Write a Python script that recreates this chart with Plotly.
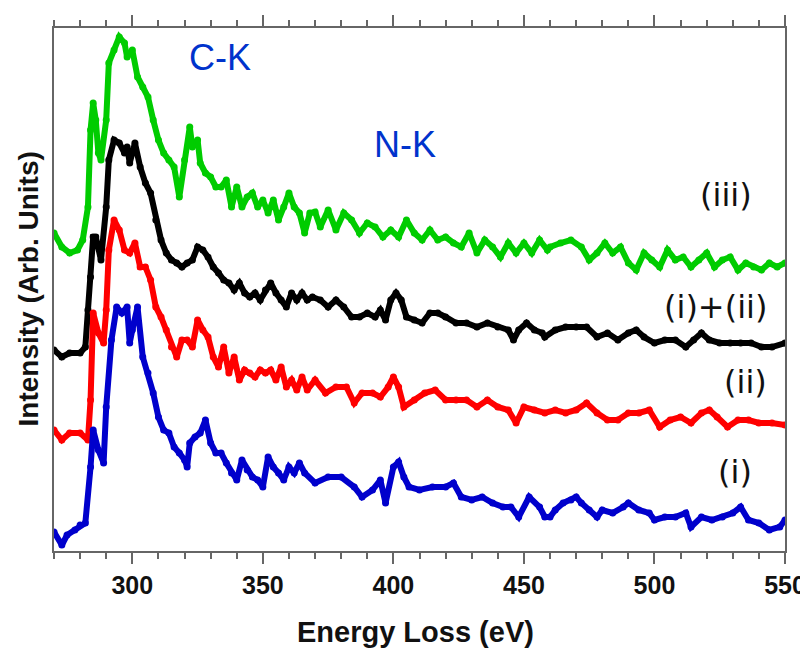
import plotly.graph_objects as go

# (i) blue
e_i = [270,273,275,278,280,282,284,285,287,289,290,292,294,296,298,299,300,302,304,306,
       308,310,312,314,316,318,320,321,322,324,326,328,330,332,334,336,338,340,342,344,
       346,348,350,352,354,356,358,360,362,364,366,370,375,380,385,388,392,395,397,400,
       402,404,406,410,415,420,423,426,430,434,438,442,445,448,452,456,458,460,462,465,
       468,470,472,475,478,480,484,488,490,494,498,500,504,508,512,514,518,522,526,530,
       533,536,540,544,548,550]
y_i = [19,6,16,21,26,28,84,121,101,88,144,211,244,238,244,208,221,244,194,178,
       158,134,121,118,104,98,91,84,108,114,118,131,108,98,98,88,78,71,91,81,
       74,71,64,94,84,78,71,84,78,88,78,68,74,74,64,54,61,71,48,84,
       89,74,64,61,64,64,68,54,51,54,48,44,44,34,54,44,34,34,41,48,
       51,54,48,41,34,41,38,44,48,41,38,31,34,34,38,24,34,31,34,38,
       44,31,28,21,24,31]

# (ii) red
e_ii = [270,273,276,280,283,284,285,287,289,290,291,293,295,297,299,301,303,305,307,309,
        311,313,315,317,319,321,323,325,327,329,331,333,335,337,339,341,343,345,347,349,
        351,353,355,357,359,361,363,365,367,370,374,378,382,385,388,392,395,398,400,402,
        404,408,412,416,420,424,428,432,436,440,444,447,450,454,458,462,466,470,474,478,
        482,486,490,494,498,502,506,510,514,518,521,524,528,532,536,540,545,550]
y_ii = [121,111,118,118,111,151,238,218,208,241,301,331,321,301,298,308,284,284,271,244,
        234,221,204,194,211,211,204,231,221,214,194,184,204,178,194,171,181,178,174,181,
        178,181,171,184,164,171,161,174,161,171,158,164,164,148,158,158,154,164,174,164,
        144,151,158,161,151,151,151,144,151,144,141,128,144,141,138,141,138,141,148,138,
        131,131,138,138,141,124,131,134,128,138,141,134,124,131,131,128,128,126]

# (i)+(ii) black
e_sum = [270,273,276,280,282,283,284,285,286,288,290,291,293,295,297,298,299,301,303,305,
         307,309,311,313,315,317,319,321,323,325,327,329,331,333,335,337,339,341,343,345,
         347,349,351,353,355,357,359,361,363,365,367,369,372,375,378,381,384,387,390,393,
         395,397,399,401,403,405,408,411,414,417,420,424,428,432,436,440,444,446,448,451,
         454,457,458,462,466,470,474,478,482,486,490,493,496,500,504,508,512,515,518,521,
         525,529,533,537,541,545,550]
y_sum = [201,194,198,198,204,241,274,314,314,291,344,391,411,408,398,404,388,408,384,368,
         358,331,311,298,291,288,284,288,291,304,301,294,284,278,271,268,261,268,258,254,
         258,251,261,268,258,251,244,258,251,258,251,254,251,244,251,244,234,234,238,234,
         241,231,251,258,251,234,231,228,238,238,234,228,228,224,228,224,221,211,221,228,
         221,218,214,221,224,224,224,214,218,211,218,221,214,208,211,211,204,211,218,211,
         208,208,208,208,204,204,208]

# (iii) green
e_iii = [270,273,276,279,281,283,284,285,286,287,288,290,291,293,295,297,298,300,302,304,
         306,308,310,312,314,316,318,320,322,323,325,326,328,330,332,334,336,338,340,342,
         344,346,348,350,352,354,356,358,360,362,364,366,368,370,372,375,378,381,384,387,
         390,393,396,399,402,405,408,411,414,417,420,423,426,429,432,435,438,441,444,447,
         450,453,456,459,460,464,468,472,475,478,481,484,487,490,493,496,499,502,505,508,
         511,514,517,520,523,526,529,532,535,538,541,544,547,550]
y_iii = [318,304,298,301,311,344,421,448,431,398,391,431,488,501,514,508,494,501,474,464,
         454,431,411,398,391,384,354,391,424,404,411,388,378,374,364,364,371,344,364,344,
         354,358,344,351,338,351,331,344,358,344,338,318,338,339,324,341,321,338,331,318,
         328,324,314,321,314,331,318,311,321,311,314,308,304,318,298,311,304,294,308,298,
         308,298,311,301,304,308,311,304,291,298,308,298,304,288,281,298,291,284,301,291,
         294,284,291,298,284,291,294,281,288,284,281,288,284,288]

x_ticks = [300, 350, 400, 450, 500, 550]

series = [
    (e_iii, y_iii, "#00cc00", "(iii)"),
    (e_sum, y_sum, "#000000", "(i)+(ii)"),
    (e_ii, y_ii, "#ff0000", "(ii)"),
    (e_i, y_i, "#0000cc", "(i)"),
]

fig = go.Figure()
for ex, ey, col, name in series:
    fig.add_trace(go.Scatter(x=ex, y=ey, mode="lines+markers", name=name,
                             line=dict(color=col, width=6, shape="linear"),
                             marker=dict(color=col, size=7)))

label_font = dict(family="DejaVu Sans, sans-serif", size=32, color="#111111")
blue_font = dict(family="Liberation Sans, Arial, sans-serif", size=36, color="#0033cc")
anns = [
    dict(x=333.7, y=494, text="C-K", font=blue_font),
    dict(x=404.6, y=407, text="N-K", font=blue_font),
    dict(x=527.4, y=356, text="(iii)", font=label_font),
    dict(x=523.5, y=244, text="(i)+(ii)", font=label_font),
    dict(x=535.0, y=169, text="(ii)", font=label_font),
    dict(x=530.8, y=79, text="(i)", font=label_font),
]
for a in anns:
    fig.add_annotation(xref="x", yref="y", showarrow=False, xanchor="center",
                       yanchor="middle", **a)

title_font = dict(family="Liberation Sans, Arial, sans-serif", size=29, color="#111111", weight="bold")
fig.add_annotation(xref="paper", yref="paper", x=0.494, y=0, yshift=-81,
                   text="Energy Loss (eV)", showarrow=False, xanchor="center",
                   yanchor="middle", font=title_font)
fig.add_annotation(xref="paper", yref="paper", x=0, y=0.50, xshift=-26,
                   text="Intensity (Arb. Units)", showarrow=False, textangle=-90,
                   xanchor="center", yanchor="middle",
                   font=dict(family="Liberation Sans, Arial, sans-serif", size=28,
                             color="#111111", weight="bold"))

# page body has an 8px default margin, so the figure is sized 800x642
fig.update_layout(
    width=800, height=642,
    margin=dict(l=46, r=23, t=20, b=99, autoexpand=False),
    paper_bgcolor="white", plot_bgcolor="white",
    showlegend=False,
    xaxis=dict(range=[270, 550], tickvals=x_ticks, ticktext=[str(t) for t in x_ticks],
               showgrid=False, zeroline=False,
               showline=True, linecolor="#666666", linewidth=2, mirror="ticks",
               ticks="outside", ticklen=11, tickwidth=2, tickcolor="#666666",
               minor=dict(dtick=10, tick0=270, ticks="outside", ticklen=6,
                          tickwidth=1.5, tickcolor="#666666", showgrid=False),
               tickfont=dict(family="Liberation Sans, Arial, sans-serif", size=25,
                             color="#111111", weight="bold")),
    yaxis=dict(range=[0, 523], showticklabels=False, ticks="", showgrid=False,
               zeroline=False, showline=True, linecolor="#666666", linewidth=2,
               mirror=True),
)

fig.write_html("out.html")
